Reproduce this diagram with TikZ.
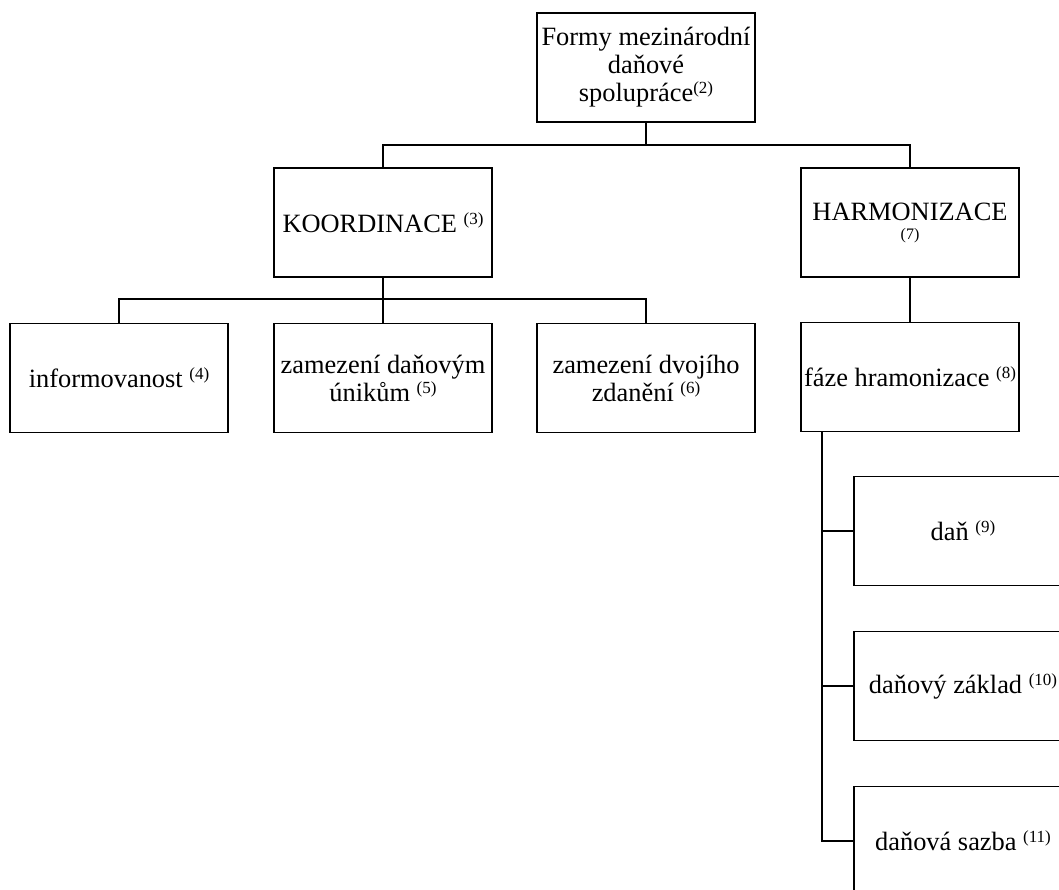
\documentclass[tikz,border=0pt]{standalone}
\usepackage{fontspec}
\setmainfont{Liberation Serif}
\newcommand\sups[1]{\raisebox{8pt}{\fontsize{17}{17}\selectfont(#1)}}
\begin{document}
\begin{tikzpicture}[x=1pt,y=-1pt,
  box/.style={draw,line width=1.6pt,minimum width=218pt,minimum height=109pt,
    inner sep=0pt,align=center,font=\fontsize{26.4}{28}\selectfont},
  conn/.style={line width=1.6pt}]
\useasboundingbox (0,0) rectangle (1059,890);
\clip (0,0) rectangle (1059,890);
\node[box] (top) at (646,67.5) {Formy mezinárodní\\daňové\\spolupráce\sups{2}};
\node[box] (koord) at (383,222.5) {KOORDINACE \sups{3}};
\node[box] (harm) at (910,222.5) {HARMONIZACE\\[-9pt]{\fontsize{16}{16}\selectfont(7)}};
\node[box] (info) at (119,378) {informovanost \sups{4}};
\node[box] (unik) at (383,378) {zamezení daňovým\\únikům \sups{5}};
\node[box] (dvoj) at (646,378) {zamezení dvojího\\zdanění \sups{6}};
\node[box] (faze) at (910,377) {fáze hramonizace \sups{8}};
\node[box] (dan) at (963,531) {daň \sups{9}};
\node[box] (zaklad) at (963,686) {daňový základ \sups{10}};
\node[box] (sazba) at (963,841) {daňová sazba \sups{11}};
\coordinate (b1) at (646,145);
\coordinate (b2) at (383,299);
\coordinate (v) at (822,431.5);
\draw[conn] (top.south) -- (b1);
\draw[conn] (koord.north) |- (b1) -| (harm.north);
\draw[conn] (koord.south) -- (unik.north);
\draw[conn] (info.north) |- (b2) -| (dvoj.north);
\draw[conn] (harm.south) -- (faze.north);
\draw[conn] (v) |- (sazba.west);
\draw[conn] (v |- dan.west) -- (dan.west);
\draw[conn] (v |- zaklad.west) -- (zaklad.west);
\end{tikzpicture}
\end{document}
